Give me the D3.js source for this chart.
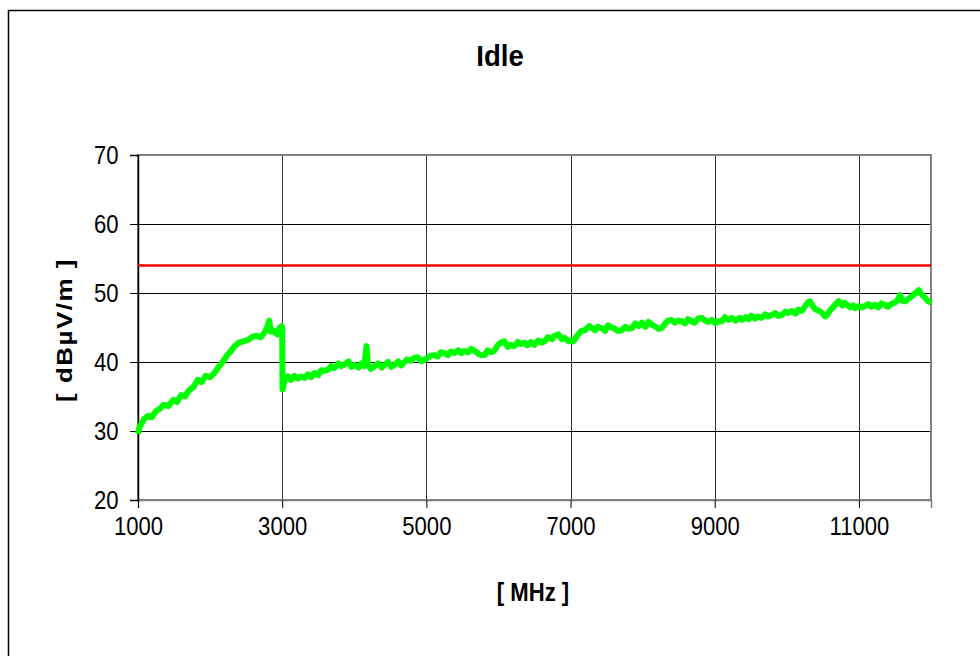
<!DOCTYPE html>
<html>
<head>
<meta charset="utf-8">
<script src="https://cdn.jsdelivr.net/npm/d3@7"></script>
<style>
  body { margin: 0; background: #fff; }
  svg text { font-family: "Liberation Sans", Arial, sans-serif; fill: #000; }
</style>
</head>
<body>
<svg id="chart" width="980" height="656"></svg>
<script>
// x ticks and y ticks as printed on the chart
const xTicks = [1000, 3000, 5000, 7000, 9000, 11000];
const yTicks = [20, 30, 40, 50, 60, 70];

// limit line (red), dBµV/m
const limitFreq = [1000, 12000];
const limitLevel = [54, 54];

const freq = [
  1000, 1020, 1040, 1090, 1140, 1190, 1250, 1300, 1360, 1420, 1490, 1540, 1600, 1650, 1710, 1770,
  1830, 1880, 1940, 2000, 2060, 2120, 2180, 2230, 2290, 2340, 2400, 2460, 2530, 2580, 2640, 2700,
  2750, 2800, 2820, 2840, 2870, 2930, 2960, 2990, 3000, 3005, 3030, 3080, 3120, 3170, 3220, 3260,
  3310, 3360, 3400, 3450, 3500, 3540, 3580, 3640, 3680, 3720, 3780, 3820, 3860, 3920, 3960, 4000,
  4060, 4100, 4140, 4170, 4190, 4230, 4280, 4330, 4380, 4420, 4470, 4510, 4560, 4610, 4650, 4690,
  4740, 4790, 4830, 4880, 4930, 4970, 5020, 5060, 5110, 5160, 5200, 5250, 5300, 5340, 5390, 5440,
  5480, 5530, 5580, 5620, 5670, 5720, 5760, 5810, 5850, 5900, 5940, 5990, 6030, 6080, 6130, 6170,
  6220, 6270, 6310, 6360, 6400, 6450, 6500, 6550, 6600, 6640, 6690, 6740, 6780, 6830, 6880, 6920,
  6970, 7000, 7040, 7090, 7150, 7200, 7260, 7290, 7340, 7380, 7430, 7480, 7520, 7570, 7620, 7660,
  7710, 7760, 7800, 7850, 7900, 7950, 7990, 8040, 8080, 8130, 8180, 8220, 8260, 8310, 8350, 8400,
  8450, 8490, 8540, 8590, 8630, 8680, 8720, 8770, 8820, 8870, 8910, 8960, 9010, 9050, 9100, 9140,
  9190, 9240, 9290, 9350, 9380, 9430, 9470, 9510, 9560, 9600, 9650, 9700, 9740, 9790, 9840, 9880,
  9930, 9980, 10020, 10070, 10120, 10160, 10210, 10260, 10300, 10320, 10360, 10400, 10450, 10500, 10530, 10560,
  10600, 10630, 10680, 10720, 10770, 10800, 10830, 10880, 10920, 10950, 11000, 11040, 11080, 11130, 11170, 11220,
  11270, 11310, 11360, 11400, 11450, 11500, 11540, 11570, 11600, 11640, 11690, 11740, 11790, 11830, 11870, 11920,
  11960, 12000
];
const level = [
  29.6, 30.6, 30.9, 31.8, 32.2, 32.0, 32.9, 33.2, 33.8, 33.6, 34.5, 34.2, 35.2, 35.0, 35.9, 36.4,
  37.4, 37.1, 38.0, 37.8, 38.4, 39.3, 40.1, 40.9, 41.6, 42.3, 42.8, 43.0, 43.2, 43.6, 43.8, 43.6,
  44.2, 45.2, 46.0, 44.4, 44.6, 44.0, 44.9, 45.2, 45.0, 36.0, 37.2, 37.9, 37.4, 38.0, 37.6, 37.9,
  37.7, 38.2, 37.8, 38.4, 38.1, 38.8, 38.7, 38.9, 39.4, 39.1, 39.8, 39.4, 39.6, 40.1, 39.3, 39.6,
  39.2, 39.8, 39.4, 42.3, 39.5, 39.0, 39.4, 39.8, 39.2, 39.6, 40.0, 39.3, 39.6, 40.1, 39.5, 39.9,
  40.4, 40.2, 40.6, 40.7, 40.1, 40.3, 40.6, 40.9, 41.0, 40.8, 41.4, 41.3, 41.0, 41.5, 41.3, 41.7,
  41.3, 41.6, 41.4, 41.9, 41.6, 41.2, 41.0, 41.0, 41.7, 41.4, 41.6, 42.4, 42.8, 43.0, 42.2, 42.5,
  42.3, 42.9, 42.6, 42.8, 42.4, 42.9, 42.5, 43.1, 42.8, 43.0, 43.6, 43.3, 43.8, 44.0, 43.3, 43.5,
  43.0, 43.2, 43.0, 43.8, 44.5, 44.6, 45.2, 45.0, 44.6, 45.1, 44.9, 44.5, 45.3, 45.0, 44.8, 44.5,
  44.6, 45.1, 44.8, 44.9, 45.6, 45.2, 45.7, 45.1, 45.8, 45.4, 45.1, 44.8, 44.9, 45.5, 46.0, 46.1,
  45.7, 46.0, 45.9, 45.6, 46.2, 45.9, 45.7, 46.3, 46.4, 46.0, 45.8, 46.1, 45.6, 45.9, 45.9, 46.5,
  46.1, 46.4, 46.0, 46.4, 46.1, 46.5, 46.2, 46.7, 46.3, 46.6, 46.4, 46.9, 46.6, 46.8, 47.1, 46.7,
  46.8, 47.3, 47.1, 47.4, 47.0, 47.6, 47.4, 48.2, 48.7, 48.8, 48.1, 47.6, 47.4, 47.0, 46.6, 46.8,
  47.5, 47.8, 48.4, 48.8, 48.2, 48.6, 48.3, 47.9, 48.2, 47.8, 48.1, 47.9, 48.1, 48.4, 48.0, 48.3,
  47.9, 48.5, 48.3, 48.0, 48.4, 48.6, 49.0, 49.7, 48.9, 48.8, 49.2, 49.6, 50.0, 50.4, 49.8, 49.3,
  48.8, 48.6
];

const W = 980, H = 656;
const margin = { top: 155, right: 49, bottom: 156, left: 138 };
const squeeze = 0.85; // the original text is horizontally condensed

const svg = d3.select("#chart");

// outer chart frame (right and bottom edges fall outside the picture)
svg.append("rect")
  .attr("x", 8.5).attr("y", 10.5)
  .attr("width", 1000).attr("height", 700)
  .attr("fill", "none")
  .attr("stroke", "#000")
  .attr("stroke-width", 1.5);

const x = d3.scaleLinear()
  .domain([1000, 12000])
  .range([margin.left, W - margin.right]);
const y = d3.scaleLinear()
  .domain([20, 70])
  .range([H - margin.bottom, margin.top]);

// grid
svg.append("g")
  .selectAll("line")
  .data(yTicks.slice(1, -1))
  .join("line")
  .attr("x1", x(1000)).attr("x2", x(12000))
  .attr("y1", d => Math.round(y(d)) + 0.5).attr("y2", d => Math.round(y(d)) + 0.5)
  .attr("stroke", "#000");
svg.append("g")
  .selectAll("line")
  .data(xTicks.slice(1))
  .join("line")
  .attr("x1", d => Math.round(x(d)) + 0.5).attr("x2", d => Math.round(x(d)) + 0.5)
  .attr("y1", y(70)).attr("y2", y(20))
  .attr("stroke", "#333");

// plot frame
svg.append("rect")
  .attr("x", x(1000)).attr("y", y(70))
  .attr("width", x(12000) - x(1000)).attr("height", y(20) - y(70))
  .attr("fill", "none")
  .attr("stroke", "#808080")
  .attr("stroke-width", 2);

// axes
const xAxis = svg.append("g")
  .attr("transform", `translate(0,${y(20)})`)
  .call(d3.axisBottom(x).tickValues(xTicks).tickSize(8).tickPadding(9).tickFormat(d3.format("d")));
const yAxis = svg.append("g")
  .attr("transform", `translate(${x(1000)},0)`)
  .call(d3.axisLeft(y).tickValues(yTicks).tickSize(8).tickPadding(15));
[xAxis, yAxis].forEach(g => {
  g.select(".domain").attr("stroke", "#000").attr("stroke-width", 1.5);
  g.selectAll(".tick line").attr("stroke", "#000");
  g.selectAll(".tick text")
    .attr("font-size", 26)
    .attr("font-family", "Liberation Sans, Arial, sans-serif")
    .attr("transform", `scale(${squeeze},1)`);
});
xAxis.select(".domain").attr("stroke", "#808080");

const line = d3.line()
  .x(i => x(freq[i]))
  .y(i => y(level[i]));

// limit line
svg.append("path")
  .datum([0, 1])
  .attr("fill", "none")
  .attr("stroke", "#ff0000")
  .attr("stroke-width", 2.5)
  .attr("d", d3.line().x(i => x(limitFreq[i])).y(i => y(limitLevel[i])));

// measured trace
svg.append("path")
  .datum(d3.range(freq.length))
  .attr("fill", "none")
  .attr("stroke", "#00ff00")
  .attr("stroke-width", 6)
  .attr("stroke-linejoin", "round")
  .attr("d", line);

// titles
svg.append("text")
  .attr("transform", `translate(500,66) scale(0.92,1)`)
  .attr("text-anchor", "middle")
  .attr("font-size", 30)
  .attr("font-weight", "bold")
  .text("Idle");

svg.append("text")
  .attr("transform", `translate(533,601) scale(${squeeze},1)`)
  .attr("text-anchor", "middle")
  .attr("font-size", 26)
  .attr("font-weight", "bold")
  .text("[ MHz ]");

svg.append("text")
  .attr("transform", `translate(72,330) rotate(-90) scale(1,${squeeze})`)
  .attr("text-anchor", "middle")
  .attr("font-size", 26)
  .attr("font-weight", "bold")
  .attr("letter-spacing", 1.5)
  .text("[ dBµV/m ]");
</script>
</body>
</html>
